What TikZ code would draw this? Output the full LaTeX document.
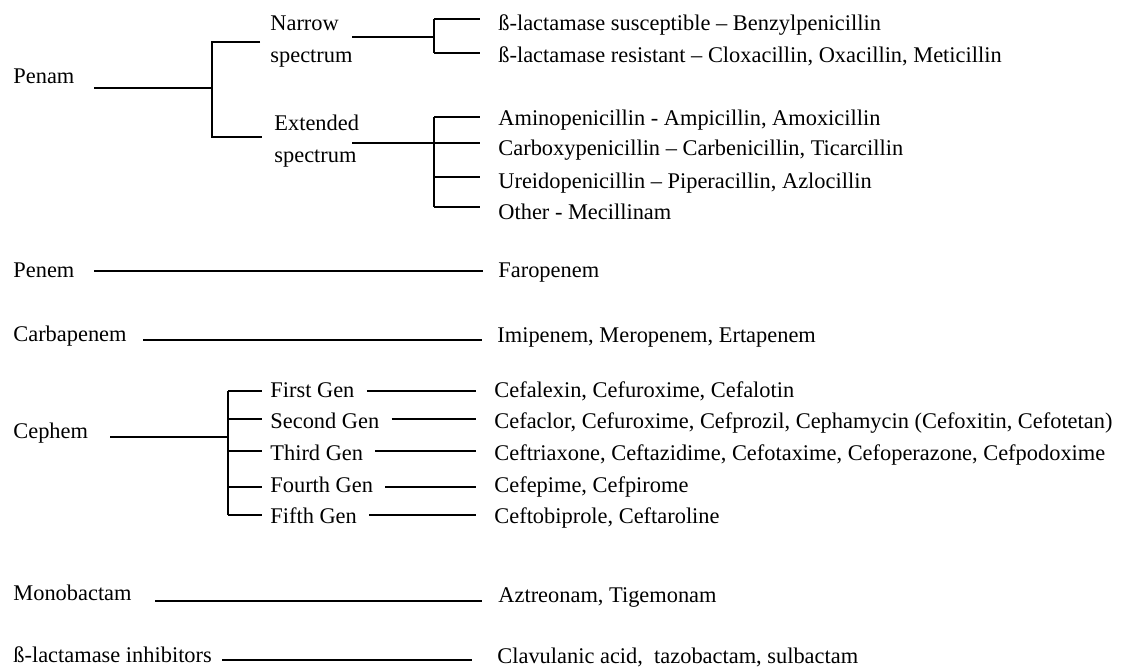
\documentclass[tikz,border=0pt]{standalone}
\usepackage{fontspec}
\setmainfont{Liberation Serif}
\tikzset{
  lbl/.style={anchor=base west, inner sep=0pt, font=\fontsize{11.2pt}{16pt}\selectfont},
  rule/.style={line width=0.9pt}
}
\begin{document}
\begin{tikzpicture}[x=0.5pt, y=-0.5pt]
  \useasboundingbox (0,0) rectangle (1124,671);
  % classes
  \node[lbl] (penam) at (13,83) {Penam};
  \node[lbl] (penem) at (13,277) {Penem};
  \node[lbl] (carba) at (13,341) {Carbapenem};
  \node[lbl] (cephem) at (13,438) {Cephem};
  \node[lbl] (mono) at (13,600) {Monobactam};
  \node[lbl] (inhib) at (13,662) {ß-lactamase inhibitors};
  % penam
  \node[lbl, align=left] (narrow) at (270,62) {Narrow\\spectrum};
  \node[lbl, align=left] (ext) at (274,162) {Extended\\spectrum};
  \coordinate (pA) at (94,88);
  \coordinate (pJ) at (212,88);
  \coordinate (pN) at (260,42);
  \coordinate (pE) at (262,137);
  \draw[rule] (pA) -- (pJ);
  \draw[rule] (pN) -- (pN -| pJ) -- (pE -| pJ) -- (pE);
  \coordinate (nA) at (352,37);
  \coordinate (nJ) at (434,37);
  \coordinate (eA) at (352,143);
  \coordinate (eJ) at (434,143);
  \draw[rule] (nA) -- (nJ);
  \draw[rule] (eA) -- (eJ);
  \foreach \k/\ly/\by/\txt in {1/19/30/{ß-lactamase susceptible – Benzylpenicillin},
      2/53/62/{ß-lactamase resistant – Cloxacillin, Oxacillin, Meticillin}}{
    \node[lbl] (n\k) at (498,\by) {\txt};
    \coordinate (nb\k) at (480,\ly);
    \draw[rule] (nJ |- nb\k) -- (nb\k);
  }
  \draw[rule] (nJ |- nb1) -- (nJ |- nb2);
  \foreach \k/\ly/\by/\txt in {1/117/125/{Aminopenicillin - Ampicillin, Amoxicillin},
      2/143/155/{Carboxypenicillin – Carbenicillin, Ticarcillin},
      3/177/188/{Ureidopenicillin – Piperacillin, Azlocillin},
      4/207/219/{Other - Mecillinam}}{
    \node[lbl] (e\k) at (498,\by) {\txt};
    \coordinate (eb\k) at (480,\ly);
    \draw[rule] (eJ |- eb\k) -- (eb\k);
  }
  \draw[rule] (eJ |- eb1) -- (eJ |- eb4);
  % single lines
  \node[lbl] (faro) at (498,277) {Faropenem};
  \node[lbl] (imi) at (497,342) {Imipenem, Meropenem, Ertapenem};
  \node[lbl] (azt) at (498,602) {Aztreonam, Tigemonam};
  \node[lbl] (clav) at (497,663) {Clavulanic acid,\ \ tazobactam, sulbactam};
  \coordinate (penemA) at (94,271);
  \coordinate (penemB) at (483,271);
  \coordinate (carbaA) at (143,340);
  \coordinate (carbaB) at (482,340);
  \coordinate (monoA) at (155,601);
  \coordinate (monoB) at (482,601);
  \coordinate (inhibA) at (222,660);
  \coordinate (inhibB) at (472,660);
  \draw[rule] (penemA) -- (penemB);
  \draw[rule] (carbaA) -- (carbaB);
  \draw[rule] (monoA) -- (monoB);
  \draw[rule] (inhibA) -- (inhibB);
  % cephem
  \coordinate (cA) at (110,437);
  \coordinate (cJ) at (228,437);
  \draw[rule] (cA) -- (cJ);
  \foreach \k/\ly/\by/\gen/\drugs in {1/391/397/First Gen/{Cefalexin, Cefuroxime, Cefalotin},
      2/419/428/Second Gen/{Cefaclor, Cefuroxime, Cefprozil, Cephamycin (Cefoxitin, Cefotetan)},
      3/451/460/Third Gen/{Ceftriaxone, Ceftazidime, Cefotaxime, Cefoperazone, Cefpodoxime},
      4/487/492/Fourth Gen/{Cefepime, Cefpirome},
      5/515/523/Fifth Gen/{Ceftobiprole, Ceftaroline}}{
    \node[lbl] (g\k) at (270,\by) {\gen};
    \node[lbl] (d\k) at (494,\by) {\drugs};
    \coordinate (gb\k) at (262,\ly);
    \coordinate (db\k) at (476,\ly);
    \draw[rule] (cJ |- gb\k) -- (gb\k);
    \draw[rule] ([xshift=6pt]g\k.east |- db\k) -- (db\k);
  }
  \draw[rule] (cJ |- gb1) -- (cJ |- gb5);
\end{tikzpicture}
\end{document}
